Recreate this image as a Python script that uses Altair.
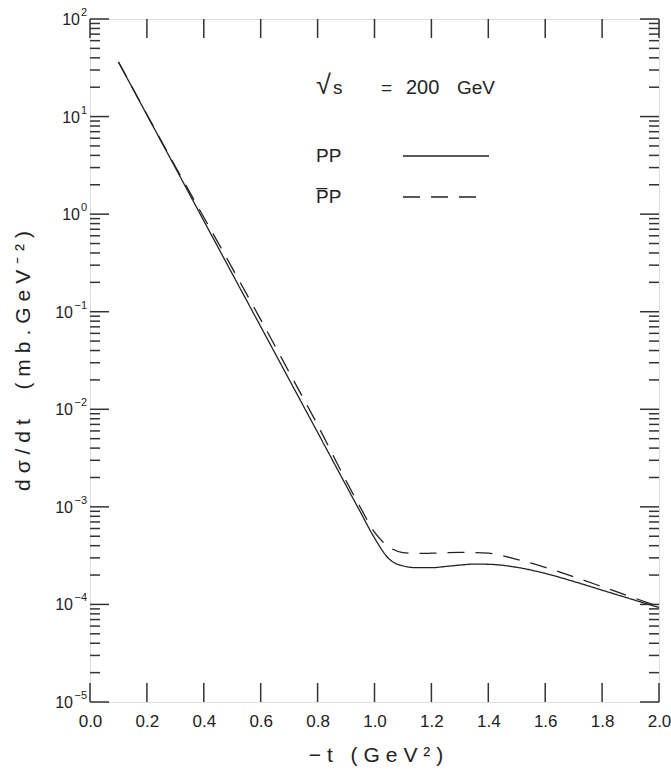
import altair as alt
import pandas as pd

# ---------------- data ----------------
t_pp = [0.10, 0.20, 0.30, 0.40, 0.50, 0.60, 0.70, 0.80, 0.90, 0.95, 1.00, 1.05,
        1.10, 1.15, 1.20, 1.25, 1.30, 1.35, 1.40, 1.50, 1.60, 1.70, 1.80, 1.90, 2.00]
sig_pp = [36.3, 10.4, 2.99, 0.855, 0.245, 0.0704, 0.0202, 5.8e-3, 1.66e-3, 8.9e-4,
          4.8e-4, 2.95e-4, 2.48e-4, 2.38e-4, 2.38e-4, 2.45e-4, 2.53e-4, 2.59e-4,
          2.58e-4, 2.40e-4, 2.08e-4, 1.72e-4, 1.40e-4, 1.14e-4, 9.3e-5]

t_ppbar = [0.10, 0.20, 0.30, 0.40, 0.50, 0.60, 0.70, 0.80, 0.90, 0.95, 1.00, 1.05,
           1.10, 1.15, 1.20, 1.30, 1.40, 1.50, 1.60, 1.70, 1.80, 1.90, 2.00]
sig_ppbar = [36.3, 10.5, 3.08, 0.93, 0.28, 0.083, 0.0240, 6.9e-3, 1.85e-3, 9.9e-4,
             5.5e-4, 3.9e-4, 3.4e-4, 3.33e-4, 3.35e-4, 3.42e-4, 3.35e-4, 2.90e-4,
             2.40e-4, 1.92e-4, 1.52e-4, 1.20e-4, 9.5e-5]

x_ticks = [0.0, 0.2, 0.4, 0.6, 0.8, 1.0, 1.2, 1.4, 1.6, 1.8, 2.0]
y_major = [1e-5, 1e-4, 1e-3, 1e-2, 1e-1, 1e0, 1e1, 1e2]
y_exponents = ["\u22125", "\u22124", "\u22123", "\u22122", "\u22121", "0", "1", "2"]
y_minor = [m * 10.0 ** k for k in range(-5, 2) for m in range(2, 10)]

# ---------------- layout ----------------
W, H = 569, 683
FONT = "Liberation Sans"
INK = "#222222"
FRAME = "#333333"


def spaced(s, gap="\u2009\u200a"):
    return gap.join(s).replace(" ", "\u00a0")


xs = alt.Scale(domain=[0, 2], nice=False, zero=False)
ys = alt.Scale(type="log", domain=[1e-5, 1e2], nice=False)

x_axis = alt.Axis(
    values=x_ticks, format=".1f", labelFlush=False, ticks=False, domain=False, grid=False,
    labelPadding=11, labelFontSize=17, labelFont=FONT, labelColor=INK,
    title=spaced("\u2212t (GeV\u00b2)"), titleFont=FONT, titleFontSize=21,
    titleFontWeight="normal", titleColor=INK, titleX=W / 2 + 1, titleY=53,
    titleAlign="center", titleBaseline="middle")
y_axis = alt.Axis(
    values=y_major, labels=False, ticks=False, domain=False, grid=False,
    title=spaced("d\u03c3/dt  (mb.GeV\u207b\u00b2)"), titleFont=FONT, titleFontSize=21,
    titleFontWeight="normal", titleColor=INK, titleX=-67, titleY=H / 2,
    titleAngle=-90, titleAlign="center", titleBaseline="middle")

curves = pd.DataFrame({
    "t": t_pp + t_ppbar,
    "sig": sig_pp + sig_ppbar,
    "series": ["pp"] * len(t_pp) + ["ppbar"] * len(t_ppbar),
})

lines = alt.Chart(curves).mark_line(interpolate="monotone", strokeWidth=1.3, color=INK).encode(
    x=alt.X("t:Q", scale=xs, axis=x_axis),
    y=alt.Y("sig:Q", scale=ys, axis=y_axis),
    strokeDash=alt.StrokeDash("series:N", scale=alt.Scale(domain=["pp", "ppbar"],
                                                          range=[[1, 0], [17, 11]]), legend=None),
    detail="series:N",
)

ymaj_df = pd.DataFrame({"sig": y_major, "exp": y_exponents})
ymin_df = pd.DataFrame({"sig": y_minor})
xt_df = pd.DataFrame({"t": x_ticks})


def yrule(df, x1, x2):
    return alt.Chart(df).mark_rule(color=FRAME, strokeWidth=1.5).encode(
        y=alt.Y("sig:Q", scale=ys, axis=y_axis), x=alt.value(x1), x2=alt.value(x2))


def xrule(y1, y2):
    return alt.Chart(xt_df).mark_rule(color=FRAME, strokeWidth=1.5).encode(
        x=alt.X("t:Q", scale=xs, axis=x_axis), y=alt.value(y1), y2=alt.value(y2))


ticks = [
    yrule(ymaj_df, 0, 19), yrule(ymin_df, 0, 10),
    yrule(ymaj_df, W - 19, W), yrule(ymin_df, W - 10, W),
    xrule(H - 19, H), xrule(0, 19),
]

# y tick labels: "10" with a raised exponent
pos_df = ymaj_df[ymaj_df["sig"] >= 1]
neg_df = ymaj_df[ymaj_df["sig"] < 1]


def ten(df, xr):
    return alt.Chart(df).mark_text(text="10", font=FONT, fontSize=16, color=INK,
                                   align="right", baseline="middle", dy=1).encode(
        y=alt.Y("sig:Q", scale=ys, axis=y_axis), x=alt.value(xr))


exps = alt.Chart(ymaj_df).mark_text(font=FONT, fontSize=11, color=INK,
                                    align="right", baseline="middle", dy=-6).encode(
    y=alt.Y("sig:Q", scale=ys, axis=y_axis), x=alt.value(-3), text="exp:N")

ylabels = [ten(pos_df, -10), ten(neg_df, -17), exps]

one = pd.DataFrame({"a": [0]})


def label(txt, x, y, size=19):
    return alt.Chart(one).mark_text(text=txt, font=FONT, fontSize=size, color=INK,
                                    align="left", baseline="middle").encode(
        x=alt.value(x), y=alt.value(y))


annots = [
    label("\u221a", 226, 67, 27),
    label("s", 243, 69, 19),
    label("=", 291, 69, 19),
    label("200", 316, 69, 20),
    label("GeV", 367, 69, 19),
    label("PP", 226, 137, 19),
    label("P\u0305P", 226, 178, 19),
    alt.Chart(one).mark_rule(color=INK, strokeWidth=1.3).encode(
        x=alt.value(313), x2=alt.value(399), y=alt.value(137)),
    alt.Chart(one).mark_rule(color=INK, strokeWidth=1.3, strokeDash=[17, 11]).encode(
        x=alt.value(313), x2=alt.value(392), y=alt.value(178)),
]

chart = alt.layer(lines, *ticks, *ylabels, *annots).properties(
    width=W, height=H,
    autosize=alt.AutoSizeParams(type="none"),
    padding={"left": 90, "top": 19, "right": 12, "bottom": 72},
).configure_view(stroke=FRAME, strokeWidth=1.6).configure(background="white")

chart.save("out.html", embed_options={"renderer": "svg", "actions": False})
